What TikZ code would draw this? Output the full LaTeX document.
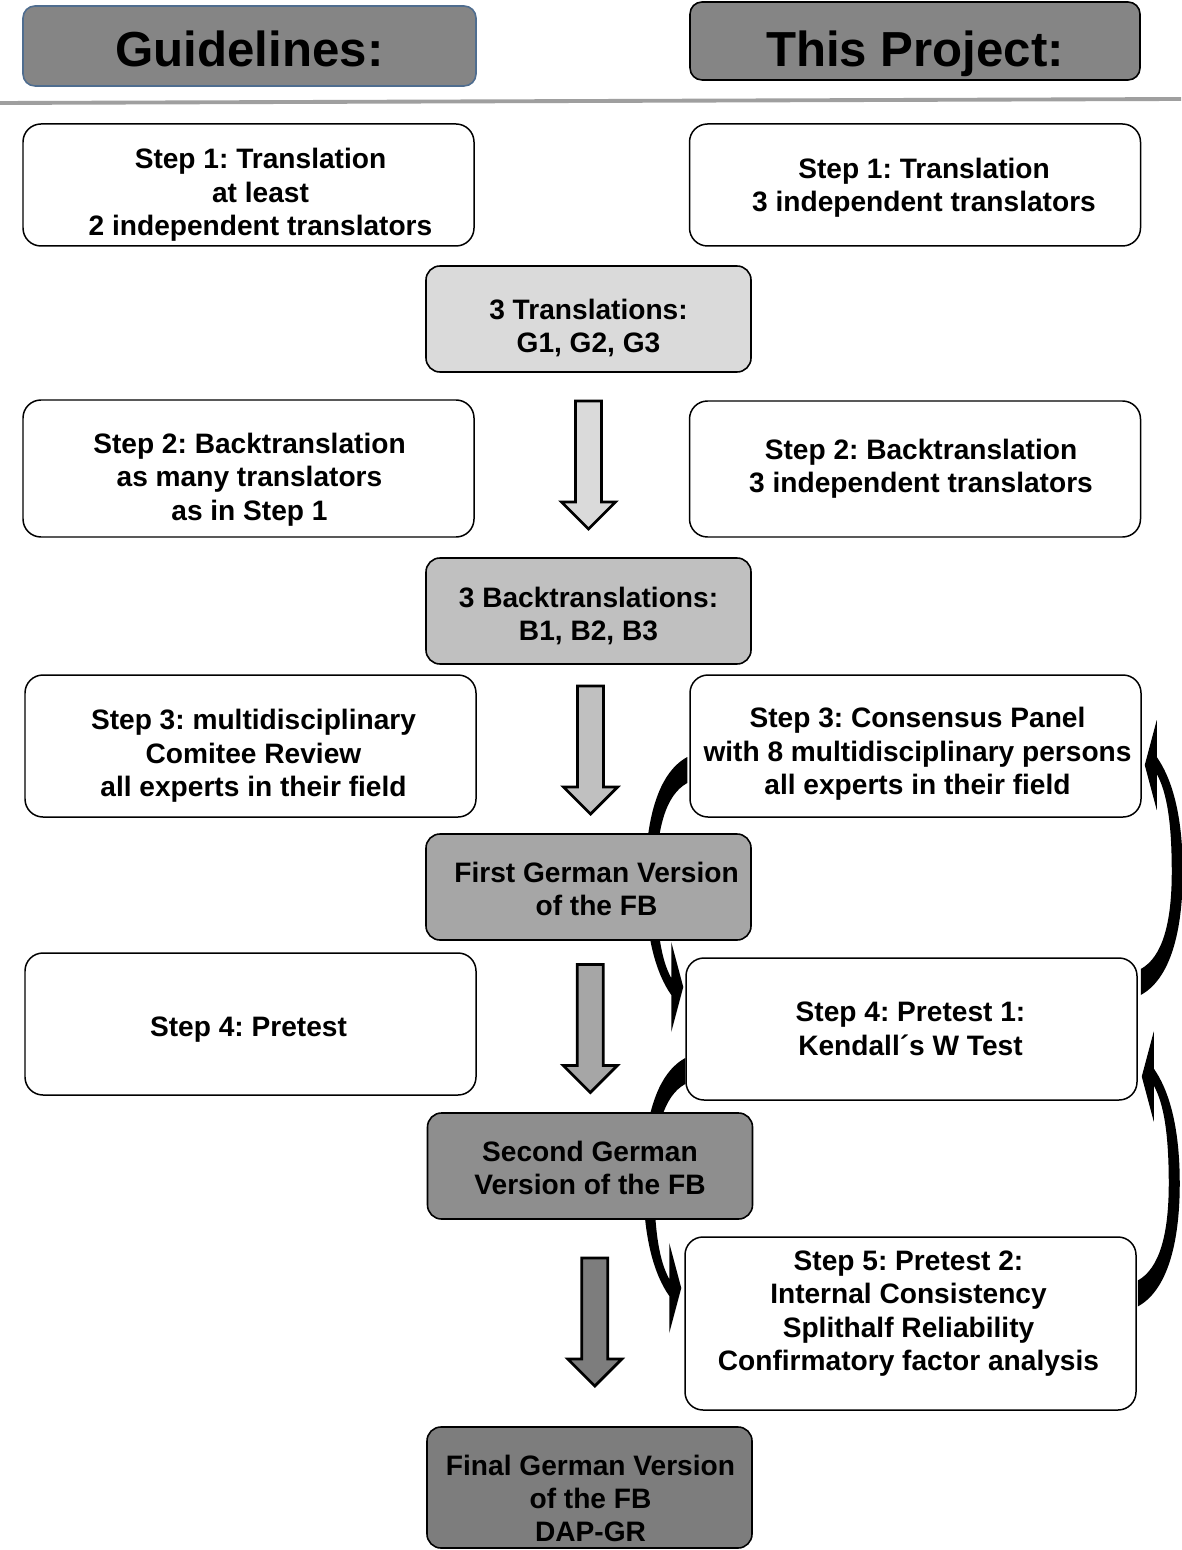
\documentclass[tikz,border=0pt]{standalone}
\usepackage{fontspec}
\setmainfont{Liberation Sans}
\usepackage{tikz}
\usetikzlibrary{positioning,calc}
\frenchspacing

\def\px{0.02cm}
\definecolor{headgray}{HTML}{858585}
\definecolor{guideblue}{HTML}{4F6D8F}
\definecolor{gray-a}{HTML}{DADADA}
\definecolor{gray-b}{HTML}{C0C0C0}
\definecolor{gray-c}{HTML}{A6A6A6}
\definecolor{gray-d}{HTML}{8E8E8E}
\definecolor{gray-e}{HTML}{7D7D7D}

\tikzset{
  every node/.style={font=\bfseries\fontsize{16}{19}\selectfont, align=center},
  headtext/.style={font=\bfseries\fontsize{28}{32}\selectfont},
  headbox/.style={draw, line width=0.9pt, fill=headgray, rounded corners=12*\px},
  stepbox/.style={draw, line width=0.85pt, fill=white, rounded corners=18*\px,
    minimum width=451*\px},
  versionbox/.style={draw, line width=0.9pt, fill=#1, rounded corners=14*\px,
    minimum width=325*\px, minimum height=106*\px},
  pics/blockdown/.style={code={
    \draw[line width=1.6pt, fill=#1] (-13,-64) -- (13,-64) -- (13,37) -- (27,37)
      -- (0,64) -- (-27,37) -- (-13,37) -- cycle;
  }},
  pics/loopback/.style={code={
    \fill (0,-13) .. controls (-33,5) and (-42,60) .. (-42,110)
      .. controls (-42,170) and (-30,205) .. (-16,225)
      -- (-16,262) -- (-4,217) -- (-16,172) -- (-16,208)
      .. controls (-26,190) and (-31,160) .. (-31,110)
      .. controls (-31,60) and (-22,25) .. (0,13) -- cycle;
  }}
}

\begin{document}
\begin{tikzpicture}[x=\px, y=-\px]
        \useasboundingbox[fill=white] (0,0) rectangle (1181,1550);

        \node[headbox, draw=guideblue, minimum width=453*\px, minimum height=80*\px,
          label={[headtext, shift={(0,3)}]center:Guidelines:}] (guide-head) at (249.5,46) {};
        \node[headbox, minimum width=450*\px, minimum height=78*\px,
          label={[headtext, shift={(0,13)}]center:This Project:}] (proj-head) at (915,41) {};
        \draw[gray!75, line width=2.2pt] (0,103) -- (1181,99);

        \node[stepbox, minimum height=122*\px, label={[shift={(12,10)}]center:{Step 1: Translation\\at least\\2 independent translators}}] (guide-1) at (248.5,185) {};
        \node[stepbox, minimum height=137*\px, label={[shift={(1,11)}]center:{Step 2: Backtranslation\\as many translators\\as in Step 1}}] (guide-2) at (248.5,468.5) {};
        \node[stepbox, minimum height=142*\px, label={[shift={(3,10)}]center:{Step 3: multidisciplinary\\Comitee Review\\all experts in their field}}] (guide-3) at (250.5,746) {};
        \node[stepbox, minimum height=142*\px, label={[shift={(-2,6)}]center:{Step 4: Pretest}}] (guide-4) at (250.5,1024) {};

        \node[stepbox, minimum height=122*\px, label={[shift={(9,3)}]center:{Step 1: Translation\\3 independent translators}}] (proj-1) at (915,185) {};
        \node[stepbox, minimum height=136*\px, label={[shift={(6,0)}]center:{Step 2: Backtranslation\\3 independent translators}}] (proj-2) at (915,469) {};
        \node[stepbox, minimum height=142*\px, label={[shift={(2,8)}]center:{Step 3: Consensus Panel\\with 8 multidisciplinary persons\\all experts in their field}}] (proj-3) at (915.5,746) {};
        \node[stepbox, minimum height=142*\px, label={[shift={(-1,0)}]center:{Step 4: Pretest 1:\\Kendall´s W Test}}] (proj-4) at (911.5,1029) {};
        \node[stepbox, minimum height=173*\px, label={[shift={(-2,-10)}]center:{Step 5: Pretest 2:\\Internal Consistency\\Splithalf Reliability\\Confirmatory factor analysis}}] (proj-5) at (910.5,1323.5) {};

        % feedback loops between the project steps
        \pic at ($(proj-3.west)+(-2,24)$) {loopback};
        \pic[rotate=180] at ($(proj-4.east)+(3,-47)$) {loopback};
        \pic at ($(proj-4.west)+(0,42)$) {loopback};
        \pic[rotate=180] at ($(proj-5.east)+(1,-30)$) {loopback};

        \node[versionbox=gray-a, label={[shift={(0,9)}]center:{3 Translations:\\G1, G2, G3}}] (trans) at (588.5,319) {};
        \node[versionbox=gray-b, label={[shift={(0,5)}]center:{3 Backtranslations:\\B1, B2, B3}}] (back) at (588.5,611) {};
        \node[versionbox=gray-c, label={[shift={(8,2)}]center:{First German Version\\of the FB}}] (first) at (588.5,887) {};
        \node[versionbox=gray-d, label={[shift={(0,2)}]center:{Second German\\Version of the FB}}] (second) at (590,1166) {};
        \node[versionbox=gray-e, minimum height=121*\px, label={[shift={(1,11)}]center:{Final German Version\\of the FB\\DAP-GR}}] (final) at (589.5,1487.5) {};

        \pic at ($(trans.south)!0.5!(back.north)$) {blockdown=gray-a};
        \pic at ($(back.south)!0.5!(first.north)+(2,1)$) {blockdown=gray-b};
        \pic at ($(first.south)!0.5!(second.north)+(1,2)$) {blockdown=gray-c};
        \pic at ($(second.south)!0.5!(final.north)+(5,-1)$) {blockdown=gray-e};
\end{tikzpicture}
\end{document}
